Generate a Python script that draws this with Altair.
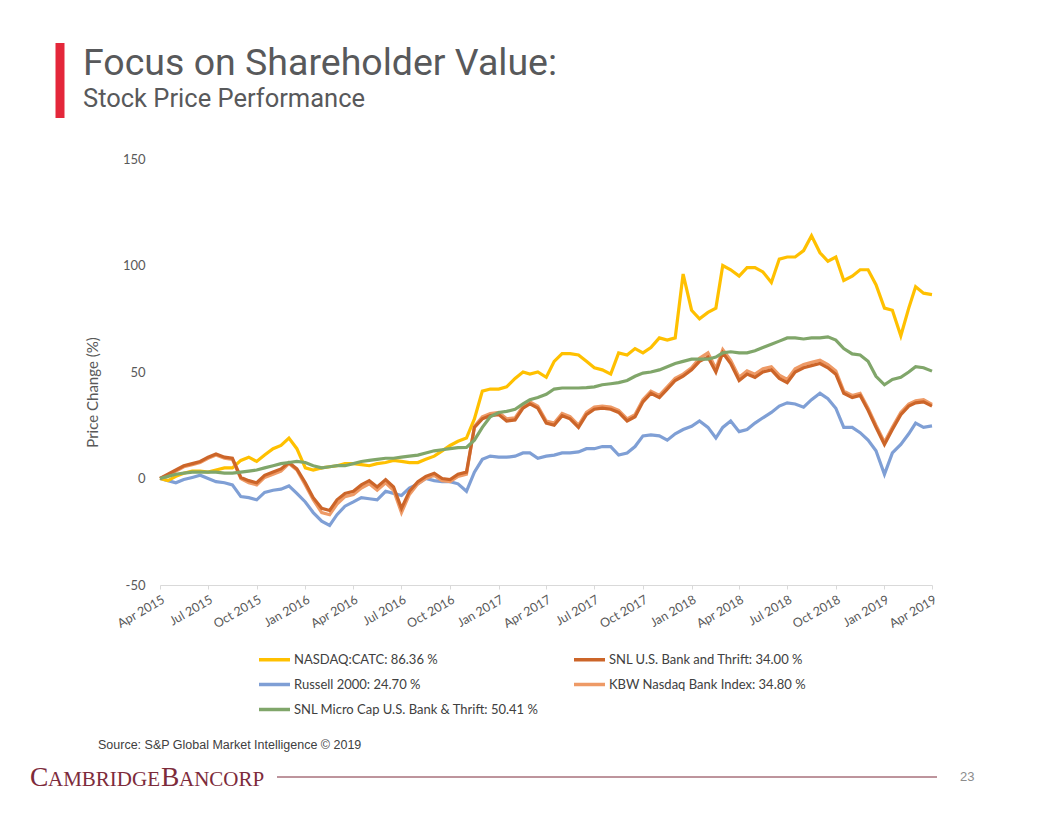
import altair as alt
import pandas as pd

# ---------------- data (semi-monthly readings, % price change) ----------------
dates = []
for y in range(2015, 2020):
    for m in range(1, 13):
        for d in (1, 16):
            if (y, m) < (2015, 4):
                continue
            if (y, m, d) > (2019, 4, 1):
                continue
            dates.append(f"{y}-{m:02d}-{d:02d}T00:00:00")

nasdaq_catc = [0, -1, 1, 2.5, 3.5, 3.5, 3, 4, 5, 5,
               8.5, 10, 8, 11, 14, 15.5, 19, 14, 5, 4,
               5, 5.5, 6, 7, 7, 6.5, 6, 7, 7.5, 8.5,
               8, 7.5, 7.5, 9, 10.5, 13, 15.5, 17.5, 19, 28,
               41, 42, 42, 43, 47, 50, 49, 50, 47.5, 55,
               58.6, 58.6, 58, 55, 52, 51, 49, 59, 58, 61,
               59, 61.5, 66, 65, 66, 96, 79, 75, 78, 80,
               100, 98, 95, 99, 99, 97, 92, 103, 104, 104,
               107, 114, 106, 102, 104, 93, 95, 98, 98, 91,
               80, 79, 67, 80, 90, 87, 86.36]

russell_2000 = [0, -1, -2, -0.5, 0.5, 1.5, 0, -1.5, -2, -3,
                -8.5, -9, -10, -6.5, -5.5, -5, -3.5, -7, -11, -16,
                -20, -22, -17, -13, -11, -9, -9.5, -10, -6, -7,
                -8, -4.5, -2.5, 0, -1, -1.5, -1.5, -2.5, -6, 3,
                9, 10.5, 10, 10, 10.5, 12, 12, 9.5, 10.5, 11,
                12, 12, 12.5, 14, 14, 15, 15, 11, 12, 15,
                20, 20.5, 20, 18, 21, 23, 24.5, 27, 24, 19,
                24, 27, 22, 23, 26, 28.5, 31, 34, 35.5, 35,
                33.5, 37, 40, 37.5, 33, 24, 24, 21.5, 18, 13,
                2, 12, 16, 21, 26, 24, 24.7]

snl_bank_thrift = [0, 2, 4, 6, 7, 8, 10, 11.5, 10, 9.5,
                   0.5, -1, -2, 1.5, 3, 4.5, 7.5, 4.5, -2, -9,
                   -14, -15, -10, -7, -6, -3, -1, -4, -0.5, -4,
                   -14, -6, -1.5, 1, 2.5, 0, -0.5, 2, 3, 24,
                   28, 29.5, 30, 27, 27.5, 33, 35, 33, 26, 25,
                   29.5, 28, 24, 30, 32.5, 33, 32.5, 31, 27, 29,
                   36, 40, 38, 42, 46, 48, 51, 55, 57, 50,
                   59, 54, 46, 49, 47.5, 50, 51, 47, 45, 50,
                   52, 53, 54, 52, 49, 40, 38, 39, 32, 24,
                   16, 23, 30, 34, 35.5, 36, 34.0]

kbw_bank = [0, 1.5, 3.5, 5.5, 6.5, 7.5, 9.5, 11, 9.5, 9,
            0, -2, -3, 0.5, 2, 3.5, 7, 4, -3, -10,
            -16, -17, -12, -8.5, -7.5, -4.5, -2.5, -5.5, -2, -5.5,
            -16, -7.5, -2.5, 0, 1.5, -1, -1.5, 1, 2, 24.5,
            29, 30.5, 31, 28, 28.5, 34, 36, 34, 27, 26,
            30.5, 29, 25, 31, 33.5, 34, 33.5, 32, 28, 30,
            37, 41, 39, 43, 47, 49, 52, 56.5, 59, 51.5,
            60.5, 55.5, 47.5, 50.5, 49, 51.5, 52.5, 48.5, 46.5, 51.5,
            53.5, 54.5, 55.5, 53.5, 50.5, 41, 39, 40, 33, 25,
            17, 24, 31, 35, 36.5, 37, 34.8]

snl_micro_cap = [0, 1, 2, 2.5, 3, 3, 3, 3, 2.5, 2.5,
                 3, 3.5, 4, 5, 6, 7, 7.5, 8, 7.5, 6,
                 5, 5.5, 6, 6, 7, 8, 8.5, 9, 9.5, 9.5,
                 10, 10.5, 11, 12, 13, 13.5, 14, 14.5, 14.6, 18,
                 24, 29, 31, 31.5, 32.5, 35, 37, 38, 39.5, 42,
                 42.5, 42.5, 42.5, 42.7, 43, 44, 44.5, 45, 46, 48,
                 49.5, 50, 51, 52.5, 54, 55, 56, 56, 56, 57,
                 59, 59.5, 59, 59, 60, 61.5, 63, 64.5, 66, 66,
                 65.5, 66, 66, 66.5, 65, 61, 58.5, 58, 55, 48,
                 44, 46.5, 47.5, 50, 52.5, 52, 50.41]

# legend order (row-wise in two columns)
names = ["NASDAQ:CATC: 86.36 %",
         "SNL U.S. Bank and Thrift: 34.00 %",
         "Russell 2000: 24.70 %",
         "KBW Nasdaq Bank Index: 34.80 %",
         "SNL Micro Cap U.S. Bank & Thrift: 50.41 %"]
colors = ["#FFC000", "#CC6529", "#7F9FD5", "#EE9A66", "#80A66A"]

# draw order (bottom to top)
draw = [(names[2], russell_2000), (names[0], nasdaq_catc), (names[3], kbw_bank),
        (names[1], snl_bank_thrift), (names[4], snl_micro_cap)]

quarter_ticks = [alt.DateTime(year=2015 + (3 + 3 * i) // 12, month=(3 + 3 * i) % 12 + 1, date=1)
                 for i in range(17)]

x_enc = alt.X("date:T", title=None,
              scale=alt.Scale(domain=[alt.DateTime(year=2015, month=4, date=1),
                                      alt.DateTime(year=2019, month=4, date=1)]),
              axis=alt.Axis(values=quarter_ticks, format="%b %Y", labelAngle=-30,
                            labelAlign="right", labelBaseline="top", labelPadding=4,
                            labelFont="Lato", labelFontSize=12.5, labelColor="#595959",
                            domainColor="#D9D9D9", tickColor="#D9D9D9", tickSize=4,
                            grid=False, labelOverlap=False))
y_enc = alt.Y("value:Q", scale=alt.Scale(domain=[-50, 150]),
              axis=alt.Axis(values=[-50, 0, 50, 100, 150], labelExpr="datum.value + ''",
                            title="Price Change (%)", titleFont="Lato", titleFontSize=15,
                            titleFontWeight="normal", titleColor="#595959",
                            titleX=-60, titleY=233,
                            labelFont="Lato", labelFontSize=13, labelColor="#595959",
                            labelPadding=15, domain=False, ticks=False, grid=False))
color_enc = alt.Color("series:N",
                      scale=alt.Scale(domain=names, range=colors),
                      legend=alt.Legend(title=None, orient="none", legendX=97, legendY=483,
                                        direction="horizontal",
                                        columns=2, columnPadding=28, rowPadding=-11,
                                        symbolType="stroke", symbolSize=961,
                                        symbolStrokeWidth=3.5, labelOffset=2,
                                        labelFont="Lato", labelFontSize=13,
                                        labelColor="#404040", labelLimit=400))

layers = []
for name, vals in draw:
    df = pd.DataFrame({"date": dates, "value": vals, "series": name})
    layers.append(alt.Chart(df).mark_line(strokeWidth=3.2).encode(
        x=x_enc, y=y_enc, color=color_enc))

one = pd.DataFrame({"t": ["x"]})

def txt(text, x, y, size, font, color, baseline="alphabetic", weight="normal"):
    return alt.Chart(pd.DataFrame({"t": [text]})).mark_text(
        align="left", baseline=baseline, fontSize=size, font=font, color=color,
        fontWeight=weight).encode(text="t:N", x=alt.value(x), y=alt.value(y))

decor = [
    alt.Chart(one).mark_rule(color="#E4273A", strokeWidth=9).encode(
        x=alt.value(-100), y=alt.value(-116), y2=alt.value(-41)),
    txt("Focus on Shareholder Value:", -77, -84, 37.5, "Roboto", "#58595B"),
    txt("Stock Price Performance", -77, -52, 25.5, "Roboto", "#58595B"),
    txt("Source:  S&P Global Market Intelligence \u00a9 2019", -62, 586, 12.5,
        "Liberation Sans", "#404040", baseline="middle"),
    txt("C", -130, 627, 27.5, "Liberation Serif", "#7D2B3B"),
    txt("AMBRIDGE", -112, 627, 21, "Liberation Serif", "#7D2B3B"),
    txt("B", 1, 627, 27.5, "Liberation Serif", "#7D2B3B"),
    txt("ANCORP", 19, 627, 21, "Liberation Serif", "#7D2B3B"),
    alt.Chart(one).mark_rule(color="#7D2B3B", strokeWidth=1).encode(
        x=alt.value(117), x2=alt.value(777), y=alt.value(618)),
    txt("23", 800, 618, 13, "Liberation Sans", "#8C8C8C", baseline="middle"),
]

chart = alt.layer(*layers, *decor).properties(
    width=772, height=426,
    padding={"left": 160, "top": 159, "right": 124, "bottom": 231},
    autosize=alt.AutoSizeParams(type="none"),
    background="white",
).configure_view(stroke=None)

chart.save("out.html", embed_options={"renderer": "svg", "actions": False})
